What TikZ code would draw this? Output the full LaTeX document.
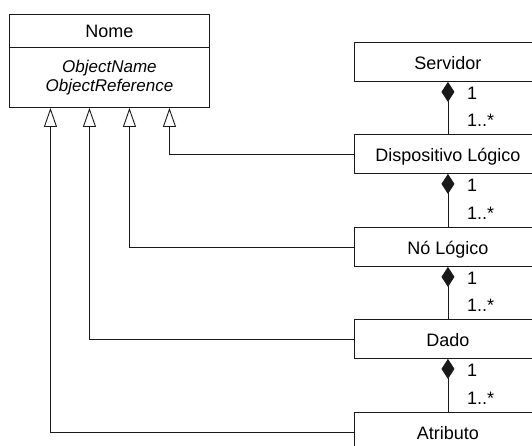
\documentclass[tikz,border=0pt]{standalone}
\usepackage{fontspec}
\setmainfont{Liberation Sans}
\usetikzlibrary{arrows.meta}
\begin{document}
\begin{tikzpicture}[x=1pt, y=-1pt,
  classbox/.style={draw=black!90, line width=0.9pt, rectangle, minimum width=187pt,
    minimum height=39pt, inner sep=0pt, text height=16pt, text depth=0pt,
    font=\fontsize{18}{21}\selectfont, anchor=north west},
  mult/.style={inner sep=0pt, font=\fontsize{18}{21}\selectfont, anchor=base west},
  link/.style={draw=black!90, line width=0.9pt},
  comp/.style={link, {Diamond[width=13pt,length=20pt]}-},
  gen/.style={link, -{Triangle[open,width=13pt,length=19pt,fill=white]}},
]
\useasboundingbox (0,0) rectangle (532,445);
\clip (0,0) rectangle (532,445);

% abstract base class
\node[classbox, minimum width=200pt, minimum height=33pt, text height=14pt] (nome) at (9,14) {Nome};
\node[classbox, minimum width=200pt, minimum height=60pt, align=center, text height=,
  text depth=, font=\itshape\fontsize{17}{18.5}\selectfont] (attrs) at (9,47)
  {ObjectName\\ObjectReference};

% containment chain
\node[classbox] (srv) at (354,42)  {Servidor};
\node[classbox] (dl)  at (354,134) {Dispositivo Lógico};
\node[classbox] (nl)  at (354,227) {Nó Lógico};
\node[classbox] (dd)  at (354,319) {Dado};
\node[classbox] (at)  at (354,412) {Atributo};

% compositions with multiplicities
\foreach \a/\b in {srv/dl, dl/nl, nl/dd, dd/at}{
  \draw[comp] (\a.south) -- (\b.north);
  \node[mult] (\a-one)  at ([xshift=19pt,yshift=-18pt]\a.south) {1};
  \node[mult] (\b-many) at ([xshift=19pt,yshift=8pt]\b.north) {1..*};
}

% generalizations to the base class
\draw[gen] (dl.west) -| ([xshift=60pt]attrs.south);
\draw[gen] (nl.west) -| ([xshift=20pt]attrs.south);
\draw[gen] (dd.west) -| ([xshift=-20pt]attrs.south);
\draw[gen] (at.west) -| ([xshift=-59pt]attrs.south);
\end{tikzpicture}
\end{document}
